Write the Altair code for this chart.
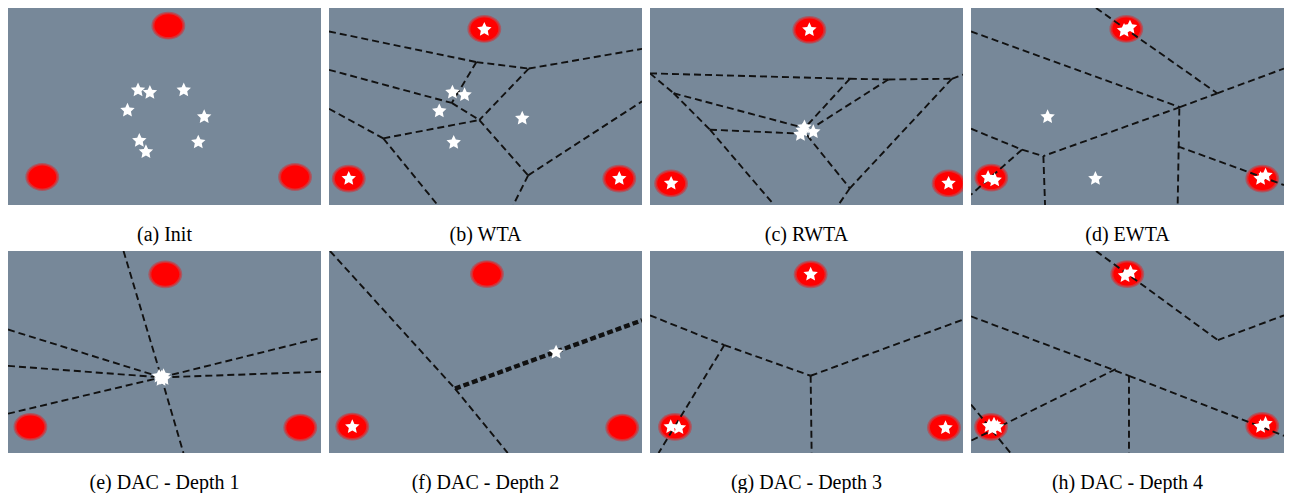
import math
import altair as alt
import pandas as pd

# ---------------- data (panel coordinates, x to the right, y downward) ----------------
X_MAX, Y_MAX = 317, 204

titles = ["(a) Init", "(b) WTA", "(c) RWTA", "(d) EWTA",
          "(e) DAC - Depth 1", "(f) DAC - Depth 2", "(g) DAC - Depth 3", "(h) DAC - Depth 4"]

blobs_a = [(162.4, 18.3), (34.7, 175.0), (290.7, 175.0)]
stars_a = [(131.7, 85.0), (143.7, 87.7), (178.0, 85.0), (121.0, 106.0),
           (198.7, 112.7), (133.0, 137.3), (139.7, 149.0), (192.7, 139.0)]
edges_a = []

blobs_b = [(157.3, 21.7), (20.0, 176.7), (294.0, 176.7)]
stars_b = [(157.3, 22.3), (20.0, 176.7), (294.0, 176.7), (125.0, 87.3),
           (137.3, 90.0), (111.7, 106.7), (195.7, 114.3), (126.3, 139.3)]
edges_b = [(0, 24.3, 149.3, 56.0), (149.3, 56.0, 202.3, 62.7), (202.3, 62.7, 317, 42.3),
           (149.3, 56.0, 124.3, 98.3), (0, 64.0, 124.3, 98.3), (124.3, 98.3, 152.3, 116.0),
           (202.3, 62.7, 152.3, 116.0), (0, 104.3, 55.0, 135.0), (55.0, 135.0, 152.3, 116.0),
           (55.0, 135.0, 110.0, 204), (152.3, 116.0, 201.7, 173.3), (201.7, 173.3, 317, 96.7),
           (201.7, 173.3, 186.7, 204)]

blobs_c = [(161.4, 22.7), (21.4, 181.7), (302.4, 181.7)]
stars_c = [(161.4, 22.7), (21.4, 181.7), (302.4, 181.7), (156.4, 123.3),
           (165.4, 128.3), (152.4, 131.0), (154.7, 126.7)]
edges_c = [(0, 67.7, 202.4, 73.3), (202.4, 73.3, 241.4, 74.0), (241.4, 74.0, 305.7, 73.3),
           (305.7, 73.3, 317, 69.0), (202.4, 73.3, 159.0, 121.7), (241.4, 74.0, 165.7, 123.3),
           (305.7, 73.3, 202.4, 186.7), (202.4, 186.7, 190.7, 204), (0, 67.7, 24.0, 88.3),
           (24.0, 88.3, 60.7, 126.0), (60.7, 126.0, 125.7, 204), (24.0, 88.3, 150.7, 122.7),
           (60.7, 126.0, 150.7, 130.0), (159.0, 131.7, 202.4, 186.7)]

blobs_d = [(157.3, 21.7), (20.6, 175.7), (295.0, 176.7)]
stars_d = [(155.0, 23.3), (161.0, 20.0), (17.3, 175.7), (24.0, 178.3),
           (293.3, 176.7), (298.3, 173.3), (77.6, 112.7), (126.0, 176.7)]
edges_d = [(126.6, 0, 249.3, 88.3), (249.3, 88.3, 317, 62.7), (0, 24.3, 211.6, 102.7),
           (211.6, 102.7, 249.3, 88.3), (211.6, 102.7, 73.3, 153.3), (0, 125.0, 51.6, 146.7),
           (51.6, 146.7, 73.3, 153.3), (51.6, 146.7, 0, 193.3), (73.3, 153.3, 75.0, 204),
           (211.0, 104.0, 209.3, 204), (209.6, 143.3, 317, 183.3)]

blobs_e = [(159.3, 23.6), (22.7, 177.6), (296.0, 178.3)]
stars_e = [(155.3, 127.6), (153.0, 126.5), (157.5, 126.0), (155.0, 130.0), (158.0, 129.0)]
edges_e = [(117.0, 0, 155.3, 127.6), (155.3, 127.6, 177.7, 204), (0, 79.3, 155.3, 127.6),
           (0, 116.0, 155.3, 127.6), (0, 164.3, 155.3, 127.6), (155.3, 127.6, 317, 87.6),
           (155.3, 127.6, 317, 122.0)]

blobs_f = [(160.0, 23.3), (23.6, 177.3), (297.0, 178.3)]
stars_f = [(23.6, 177.6), (230.0, 102.3)]
edges_f = [(1.0, 0, 127.6, 139.0), (127.6, 139.0, 181.0, 204)]
thick_f = [(127.6, 139.0, 317, 70.0)]

blobs_g = [(162.7, 23.6), (25.3, 177.6), (297.7, 178.3)]
stars_g = [(162.7, 23.6), (21.0, 177.6), (29.3, 178.6), (299.3, 178.6)]
edges_g = [(0, 65.0, 75.3, 95.0), (75.3, 95.0, 162.7, 126.0), (162.7, 126.0, 317, 69.3),
           (75.3, 95.0, 8.7, 204), (162.7, 126.0, 163.7, 204)]

blobs_h = [(158.3, 23.3), (20.3, 177.6), (295.0, 176.6)]
stars_h = [(156.0, 25.0), (161.6, 21.6), (18.3, 176.6), (23.3, 175.0), (21.6, 179.3),
           (26.6, 177.6), (293.3, 177.3), (298.3, 174.3)]
edges_h = [(126.6, 0, 250.0, 90.0), (250.0, 90.0, 317, 65.0), (0, 66.0, 160.0, 126.0),
           (160.0, 126.0, 317, 186.6), (160.0, 126.0, 160.0, 204), (146.6, 119.3, 0, 191.6),
           (0, 155.0, 40.0, 204)]

panels = [
    (blobs_a, stars_a, edges_a, []),
    (blobs_b, stars_b, edges_b, []),
    (blobs_c, stars_c, edges_c, []),
    (blobs_d, stars_d, edges_d, []),
    (blobs_e, stars_e, edges_e, []),
    (blobs_f, stars_f, edges_f, thick_f),
    (blobs_g, stars_g, edges_g, []),
    (blobs_h, stars_h, edges_h, []),
]

# ---------------- styling ----------------
W = 313
H_ROW = [197, 202]
BG = "#778899"


def ellipse_path(ry=0.82, n=32):
    parts = []
    for i in range(n):
        a = 2 * math.pi * i / n
        parts.append(("M" if i == 0 else "L") + f"{math.cos(a):.3f},{ry * math.sin(a):.3f}")
    return " ".join(parts) + " Z"


def star_path(inner=0.48):
    parts = []
    for i in range(10):
        a = -math.pi / 2 + i * math.pi / 5
        r = 1.0 if i % 2 == 0 else inner
        parts.append(("M" if i == 0 else "L") + f"{r * math.cos(a):.3f},{r * math.sin(a):.3f}")
    return " ".join(parts) + " Z"


ELLIPSE = ellipse_path()
STAR = star_path()


def pts(lst):
    return pd.DataFrame(lst, columns=["x", "y"])


def segs(lst):
    return pd.DataFrame(lst, columns=["x", "y", "x2", "y2"])


def make_panel(title, height, blobs, stars, edges, thick):
    xs = alt.Scale(domain=[0, X_MAX], nice=False, zero=False)
    ys = alt.Scale(domain=[Y_MAX, 0], nice=False, zero=False)
    X = alt.X("x:Q", scale=xs, axis=None)
    Y = alt.Y("y:Q", scale=ys, axis=None)
    layers = []
    bdf = pts(blobs)
    layers.append(alt.Chart(bdf).mark_point(shape=ELLIPSE, filled=True, color="#ff0000",
                                            opacity=0.35, size=1150, strokeWidth=0, clip=True)
                  .encode(x=X, y=Y))
    layers.append(alt.Chart(bdf).mark_point(shape=ELLIPSE, filled=True, color="#ff1010",
                                            opacity=0.6, size=960, strokeWidth=0, clip=True)
                  .encode(x=X, y=Y))
    layers.append(alt.Chart(bdf).mark_point(shape=ELLIPSE, filled=True, color="#ff0000",
                                            opacity=1, size=780, strokeWidth=0, clip=True)
                  .encode(x=X, y=Y))
    if edges:
        layers.append(alt.Chart(segs(edges)).mark_rule(color="#111111", strokeWidth=1.9,
                                                       strokeDash=[7, 4], clip=True)
                      .encode(x=X, y=Y, x2="x2:Q", y2="y2:Q"))
    if thick:
        layers.append(alt.Chart(segs(thick)).mark_rule(color="#111111", strokeWidth=4.4,
                                                       strokeDash=[6, 3], clip=True)
                      .encode(x=X, y=Y, x2="x2:Q", y2="y2:Q"))
    layers.append(alt.Chart(pts(stars)).mark_point(shape=STAR, filled=True, color="white",
                                                   opacity=1, size=230, strokeWidth=0, clip=True)
                  .encode(x=X, y=Y))
    return alt.layer(*layers).properties(
        width=W, height=height,
        title=alt.TitleParams(title, orient="bottom", font="Liberation Serif",
                              fontSize=20, fontWeight="normal", color="black", offset=20))


charts = [make_panel(t, H_ROW[i // 4], *p) for i, (t, p) in enumerate(zip(titles, panels))]
row1 = alt.hconcat(*charts[:4], spacing=8)
row2 = alt.hconcat(*charts[4:], spacing=8)
chart = alt.vconcat(row1, row2, spacing=6).properties(padding=0).configure_view(
    fill=BG, strokeWidth=0)

chart.save("out.html", embed_options={"renderer": "svg", "actions": False})
